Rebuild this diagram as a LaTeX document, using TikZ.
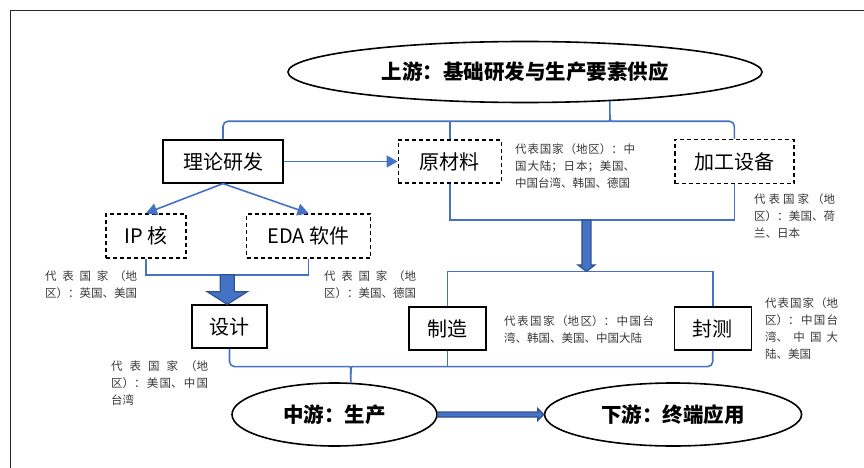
\documentclass[tikz,border=0pt]{standalone}
\usepackage{fontspec}
\usepackage{tikz}
\usetikzlibrary{arrows.meta}
\usetikzlibrary{shapes.geometric}
\usetikzlibrary{positioning,calc}
\newfontfamily\cjk{Noto Sans CJK SC}
\XeTeXlinebreaklocale "zh"
\XeTeXlinebreakskip=0pt plus 3pt
\definecolor{lineblue}{RGB}{68,114,196}
\definecolor{arrowdark}{RGB}{47,82,143}
\definecolor{notegray}{RGB}{56,56,56}
\tikzset{
	every node/.style={font=\cjk\fontsize{20}{24}\selectfont}
}
\tikzset{
	>={Triangle[length=11pt,width=12pt]},
	solid node/.style={rectangle,draw,line width=1.2pt,inner sep=0pt,minimum height=43pt},
	dashed node/.style={solid node,line width=1.5pt,dash pattern=on 4pt off 3pt},
	stage node/.style={ellipse,draw,line width=1.6pt,inner sep=0pt,font=\cjk\bfseries\fontsize{20.5}{24}\selectfont},
	note node/.style={anchor=north west,inner sep=0pt,align=justify,text=notegray,font=\cjk\fontsize{11.5}{17}\selectfont},
	blue line/.style={draw=lineblue,line width=1.6pt},
	block arrow/.style={draw=arrowdark,fill=lineblue,line width=1.2pt,line join=miter}
}

\begin{document}
\begin{tikzpicture}[x=1pt,y=-1pt]
	\useasboundingbox (0,0) rectangle (864,468);
	\draw[black!85,line width=1.2pt] (10.5,468) -- (10.5,10.5) -- (864,10.5);

	\node[stage node,minimum width=474pt,minimum height=61pt] (upstream) at (525,72) {上游：基础研发与生产要素供应};
	\node[solid node,minimum width=120pt] (lilun) at (223,161.5) {理论研发};
	\node[dashed node,minimum width=103pt,right=114pt of lilun] (yuancl) {原材料};
	\node[dashed node,minimum width=119pt,minimum height=44pt,right=172pt of yuancl] (jiagong) {加工设备};
	\node[dashed node,minimum width=80pt,minimum height=44pt] (ipcore) at (146,236) {IP 核};
	\node[dashed node,minimum width=124pt,minimum height=44pt,right=59pt of ipcore] (eda) {EDA 软件};
	\node[solid node,minimum width=75pt] (sheji) at (229.5,326.5) {设计};
	\node[solid node,minimum width=77pt] (zhizao) at (447.5,328.5) {制造};
	\node[solid node,minimum width=77pt,right=187pt of zhizao] (fengce) {封测};
	\node[stage node,minimum width=205pt,minimum height=63pt] (midstream) at (334.5,414.5) {中游：生产};
	\node[stage node,minimum width=257pt,minimum height=63pt,right=106pt of midstream] (downstream) {下游：终端应用};

	\node[note node,text width=92pt] (ipnote) at (45,270) {代表国家（地\linebreak 区）：英国、美国};
	\node[note node,text width=92pt] (edanote) at (324,270) {代表国家（地\linebreak 区）：美国、德国};
	\node[note node,text width=120pt] (ycnote) at (515,143) {\parfillskip=0pt\relax 代表国家（地区）：中\linebreak 国大陆；日本；美国、\linebreak 中国台湾、韩国、德国};
	\node[note node,text width=81pt] (jgnote) at (754,193) {代表国家（地\linebreak 区）：美国、荷\linebreak 兰、日本};
	\node[note node,text width=150pt] (zznote) at (504,315) {\parfillskip=0pt\relax 代表国家（地区）：中国台\linebreak 湾、韩国、美国、中国大陆};
	\node[note node,text width=73pt] (fcnote) at (765,297) {代表国家（地\linebreak 区）：中国台\linebreak 湾、中国大\linebreak 陆、美国};
	\node[note node,text width=97pt] (sjnote) at (111,360) {代表国家（地\linebreak 区）：美国、中国\linebreak 台湾};

	% upper brace
	\coordinate (upbar) at ($(yuancl.north)+(0,-18)$);
	\coordinate (upeak) at (upbar -| upstream.-19);
	\draw[blue line,rounded corners=5pt] (lilun.north) |- ($(upeak)+(-6,0)$) .. controls ($(upeak)+(-1,0)$) and ($(upeak)+(0,-2)$) .. ($(upeak)+(0,-7)$) -- (upstream.-19);
	\draw[blue line,rounded corners=5pt] (jiagong.north) |- ($(upeak)+(6,0)$) .. controls ($(upeak)+(1,0)$) and ($(upeak)+(0,-2)$) .. ($(upeak)+(0,-7)$);
	\draw[blue line] (yuancl.north) -- (upbar);

	\draw[blue line,->] (lilun.east) -- (yuancl.west);
	\draw[blue line,->] (lilun.south) -- (ipcore.north);
	\draw[blue line,->] (lilun.south) -- (eda.north);

	% IP and EDA into design
	\coordinate (ipjoin) at ($(ipcore.south)!.5!(eda.south)+(0,16)$);
	\draw[blue line] (ipcore.south) |- (ipjoin) -| (eda.south);
	\filldraw[block arrow] ($(ipjoin)+(-7,0)$) -- ($(ipjoin)+(7,0)$) -- ($(ipjoin)+(7,17)$) -- ($(ipjoin)+(20,17)$) -- (ipjoin |- sheji.north) -- ($(ipjoin)+(-20,17)$) -- ($(ipjoin)+(-7,17)$) -- cycle;

	% materials and tools into fab
	\coordinate (ycjoin) at ($(yuancl.south)!.48!(jiagong.south)+(0,36)$);
	\coordinate (mfjoin) at ($(zhizao.north)!.5!(fengce.north)+(0,-35)$);
	\draw[blue line] (yuancl.south) |- (ycjoin) -| (jiagong.south);
	\draw[blue line] (zhizao.north) |- (mfjoin) -| (fengce.north);
	\filldraw[block arrow] ($(ycjoin)+(-4.5,0)$) -- ($(ycjoin)+(4.5,0)$) -- ($(ycjoin)+(4.5,45)$) -- ($(ycjoin)+(8.5,45)$) -- (ycjoin |- mfjoin) -- ($(ycjoin)+(-8.5,45)$) -- ($(ycjoin)+(-4.5,45)$) -- cycle;

	% lower brace
	\coordinate (lowbar) at ($(zhizao.south)+(0,16)$);
	\coordinate (lpeak) at (lowbar -| midstream.63);
	\draw[blue line,rounded corners=5pt] (sheji.south) |- ($(lpeak)+(-6,0)$) .. controls ($(lpeak)+(-1,0)$) and ($(lpeak)+(0,2)$) .. ($(lpeak)+(0,7)$) -- (midstream.63);
	\draw[blue line,rounded corners=5pt] (fengce.south) |- ($(lpeak)+(6,0)$) .. controls ($(lpeak)+(1,0)$) and ($(lpeak)+(0,2)$) .. ($(lpeak)+(0,7)$);
	\draw[blue line] (zhizao.south) -- (lowbar);

	\filldraw[block arrow] ($(midstream.east)+(0,-2.5)$) -- ($(downstream.west)+(-6,-2.5)$) -- ($(downstream.west)+(-6,-6)$) -- (downstream.west) -- ($(downstream.west)+(-6,6)$) -- ($(downstream.west)+(-6,2.5)$) -- ($(midstream.east)+(0,2.5)$) -- cycle;
\end{tikzpicture}
\end{document}
